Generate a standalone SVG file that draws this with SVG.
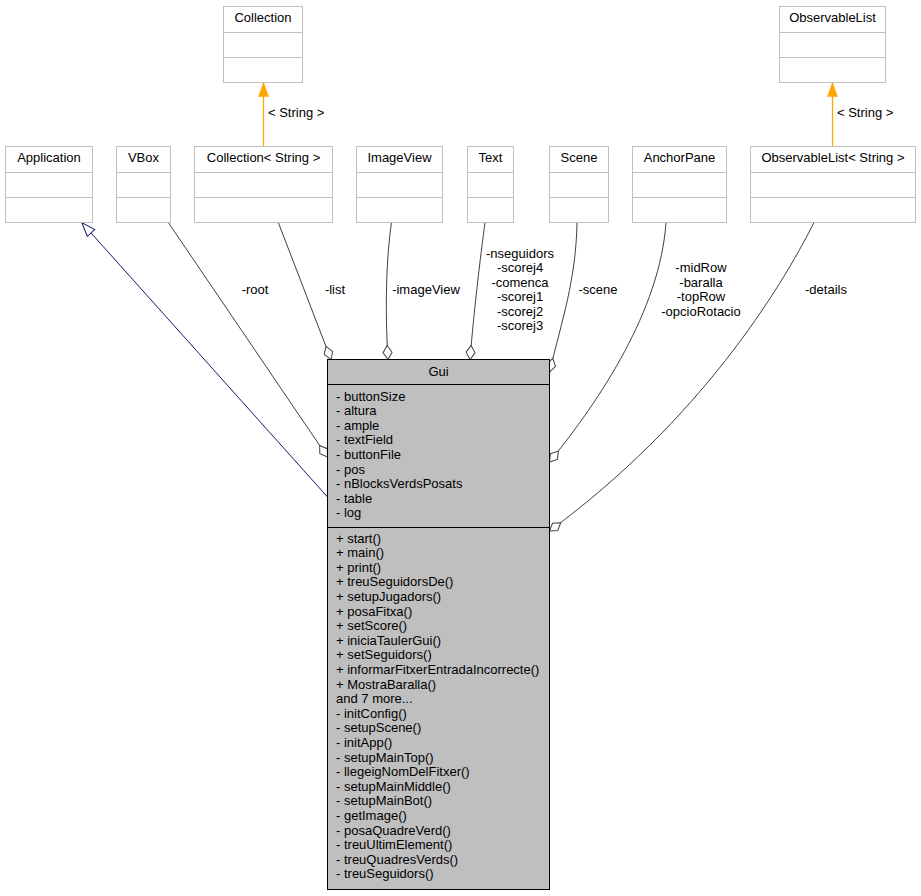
<svg xmlns="http://www.w3.org/2000/svg" width="921" height="896" viewBox="0 0 921 896">
<style>
text{font-family:"Liberation Sans",Arial,sans-serif;font-size:13px;fill:#000}
.t{text-anchor:middle}
.box rect{fill:#fff;stroke:#bfbfbf;stroke-width:1}
.box line{stroke:#bfbfbf;stroke-width:1}
.gui rect{fill:#bfbfbf;stroke:#000;stroke-width:1}
.gui line{stroke:#000;stroke-width:1}
.agg{fill:none;stroke:#404040;stroke-width:1;marker-end:url(#dia)}
.inh{fill:none;stroke:#191970;stroke-width:1;marker-end:url(#tri)}
.tpl{fill:none;stroke:#ffa500;stroke-width:1.3;marker-end:url(#otri)}
</style>
<defs>
<marker id="dia" markerUnits="userSpaceOnUse" viewBox="0 0 16 10" markerWidth="16" markerHeight="10" refX="15" refY="5" orient="auto" overflow="visible">
<path d="M1,5 L8,0.5 L15,5 L8,9.5 Z" fill="#fff" stroke="#404040" stroke-width="1"/>
</marker>
<marker id="tri" markerUnits="userSpaceOnUse" viewBox="0 0 15 11" markerWidth="15" markerHeight="11" refX="14" refY="5.5" orient="auto" overflow="visible">
<path d="M0,0.5 L14,5.5 L0,10.5 Z" fill="#fff" stroke="#191970" stroke-width="1"/>
</marker>
<marker id="otri" markerUnits="userSpaceOnUse" viewBox="0 0 14 10" markerWidth="14" markerHeight="10" refX="14" refY="5" orient="auto" overflow="visible">
<path d="M0,0 L14,5 L0,10 Z" fill="#ffa500" stroke="#ffa500" stroke-width="0.5"/>
</marker>
</defs>

<g id="connectors">
<path class="tpl" d="M263.5,146 L263.5,82.5"/>
<path class="tpl" d="M832.5,146 L832.5,82.5"/>
<path class="inh" d="M327.5,497 L81.7,222.5"/>
<path class="agg" d="M168.3,222.5 L327.5,457"/>
<path class="agg" d="M278.3,222.5 L331,359.5"/>
<path class="agg" d="M391.5,222.5 C386,260 385,310 388,359.5"/>
<path class="agg" d="M485,222.5 C480,260 474,310 470,359.5"/>
<path class="agg" d="M577,222.5 C576,280 562,320 549.5,372"/>
<path class="agg" d="M666,222.5 C660,310 600,400 549.5,462"/>
<path class="agg" d="M814,222.5 C780,290 700,420 549.5,531"/>
<text x="268" y="117">&lt; String &gt;</text>
<text x="837" y="117">&lt; String &gt;</text>
<text class="t" x="255" y="294">-root</text>
<text class="t" x="335" y="294">-list</text>
<text class="t" x="426" y="294">-imageView</text>
<text class="t" x="520" y="257.5">-nseguidors</text>
<text class="t" x="520" y="272">-scorej4</text>
<text class="t" x="520" y="286.6">-comenca</text>
<text class="t" x="520" y="301.2">-scorej1</text>
<text class="t" x="520" y="315.8">-scorej2</text>
<text class="t" x="520" y="330.4">-scorej3</text>
<text class="t" x="598" y="294">-scene</text>
<text class="t" x="701" y="272">-midRow</text>
<text class="t" x="701" y="286.6">-baralla</text>
<text class="t" x="701" y="301.2">-topRow</text>
<text class="t" x="701" y="315.8">-opcioRotacio</text>
<text class="t" x="826" y="294">-details</text>
</g>

<g id="Collection" class="box">
<rect x="223.5" y="6.5" width="79" height="76"/>
<line x1="223.5" y1="32.5" x2="302.5" y2="32.5"/>
<line x1="223.5" y1="57.5" x2="302.5" y2="57.5"/>
<text class="t" x="263" y="22">Collection</text>
</g>
<g id="ObservableList" class="box">
<rect x="779.5" y="6.5" width="106" height="76"/>
<line x1="779.5" y1="32.5" x2="885.5" y2="32.5"/>
<line x1="779.5" y1="57.5" x2="885.5" y2="57.5"/>
<text class="t" x="832.5" y="22">ObservableList</text>
</g>
<g id="Application" class="box">
<rect x="5.5" y="146.5" width="87" height="76"/>
<line x1="5.5" y1="172.5" x2="92.5" y2="172.5"/>
<line x1="5.5" y1="197.5" x2="92.5" y2="197.5"/>
<text class="t" x="49" y="162">Application</text>
</g>
<g id="VBox" class="box">
<rect x="116.5" y="146.5" width="54" height="76"/>
<line x1="116.5" y1="172.5" x2="170.5" y2="172.5"/>
<line x1="116.5" y1="197.5" x2="170.5" y2="197.5"/>
<text class="t" x="143.5" y="162">VBox</text>
</g>
<g id="CollectionString" class="box">
<rect x="194.5" y="146.5" width="138" height="76"/>
<line x1="194.5" y1="172.5" x2="332.5" y2="172.5"/>
<line x1="194.5" y1="197.5" x2="332.5" y2="197.5"/>
<text class="t" x="263.5" y="162">Collection&lt; String &gt;</text>
</g>
<g id="ImageView" class="box">
<rect x="356.5" y="146.5" width="86" height="76"/>
<line x1="356.5" y1="172.5" x2="442.5" y2="172.5"/>
<line x1="356.5" y1="197.5" x2="442.5" y2="197.5"/>
<text class="t" x="399.5" y="162">ImageView</text>
</g>
<g id="Text" class="box">
<rect x="467.5" y="146.5" width="46" height="76"/>
<line x1="467.5" y1="172.5" x2="513.5" y2="172.5"/>
<line x1="467.5" y1="197.5" x2="513.5" y2="197.5"/>
<text class="t" x="490.5" y="162">Text</text>
</g>
<g id="Scene" class="box">
<rect x="549.5" y="146.5" width="59" height="76"/>
<line x1="549.5" y1="172.5" x2="608.5" y2="172.5"/>
<line x1="549.5" y1="197.5" x2="608.5" y2="197.5"/>
<text class="t" x="579" y="162">Scene</text>
</g>
<g id="AnchorPane" class="box">
<rect x="632.5" y="146.5" width="94" height="76"/>
<line x1="632.5" y1="172.5" x2="726.5" y2="172.5"/>
<line x1="632.5" y1="197.5" x2="726.5" y2="197.5"/>
<text class="t" x="679.5" y="162">AnchorPane</text>
</g>
<g id="ObservableListString" class="box">
<rect x="750.5" y="146.5" width="165" height="76"/>
<line x1="750.5" y1="172.5" x2="915.5" y2="172.5"/>
<line x1="750.5" y1="197.5" x2="915.5" y2="197.5"/>
<text class="t" x="833" y="162">ObservableList&lt; String &gt;</text>
</g>

<g id="Gui" class="gui">
<rect x="327.5" y="359.5" width="222" height="530"/>
<line x1="327.5" y1="384.5" x2="549.5" y2="384.5"/>
<line x1="327.5" y1="527.5" x2="549.5" y2="527.5"/>
<text class="t" x="438.5" y="375.5">Gui</text>
<text x="336" y="400.5">- buttonSize</text>
<text x="336" y="415.1">- altura</text>
<text x="336" y="429.7">- ample</text>
<text x="336" y="444.3">- textField</text>
<text x="336" y="458.9">- buttonFile</text>
<text x="336" y="473.5">- pos</text>
<text x="336" y="488.1">- nBlocksVerdsPosats</text>
<text x="336" y="502.7">- table</text>
<text x="336" y="517.3">- log</text>
<text x="336" y="542.6">+ start()</text>
<text x="336" y="557.2">+ main()</text>
<text x="336" y="571.8">+ print()</text>
<text x="336" y="586.4">+ treuSeguidorsDe()</text>
<text x="336" y="601">+ setupJugadors()</text>
<text x="336" y="615.6">+ posaFitxa()</text>
<text x="336" y="630.2">+ setScore()</text>
<text x="336" y="644.8">+ iniciaTaulerGui()</text>
<text x="336" y="659.4">+ setSeguidors()</text>
<text x="336" y="674">+ informarFitxerEntradaIncorrecte()</text>
<text x="336" y="688.6">+ MostraBaralla()</text>
<text x="336" y="703.2">and 7 more...</text>
<text x="336" y="717.8">- initConfig()</text>
<text x="336" y="732.4">- setupScene()</text>
<text x="336" y="747">- initApp()</text>
<text x="336" y="761.6">- setupMainTop()</text>
<text x="336" y="776.2">- llegeigNomDelFitxer()</text>
<text x="336" y="790.8">- setupMainMiddle()</text>
<text x="336" y="805.4">- setupMainBot()</text>
<text x="336" y="820">- getImage()</text>
<text x="336" y="834.6">- posaQuadreVerd()</text>
<text x="336" y="849.2">- treuUltimElement()</text>
<text x="336" y="863.8">- treuQuadresVerds()</text>
<text x="336" y="878.4">- treuSeguidors()</text>
</g>
</svg>
